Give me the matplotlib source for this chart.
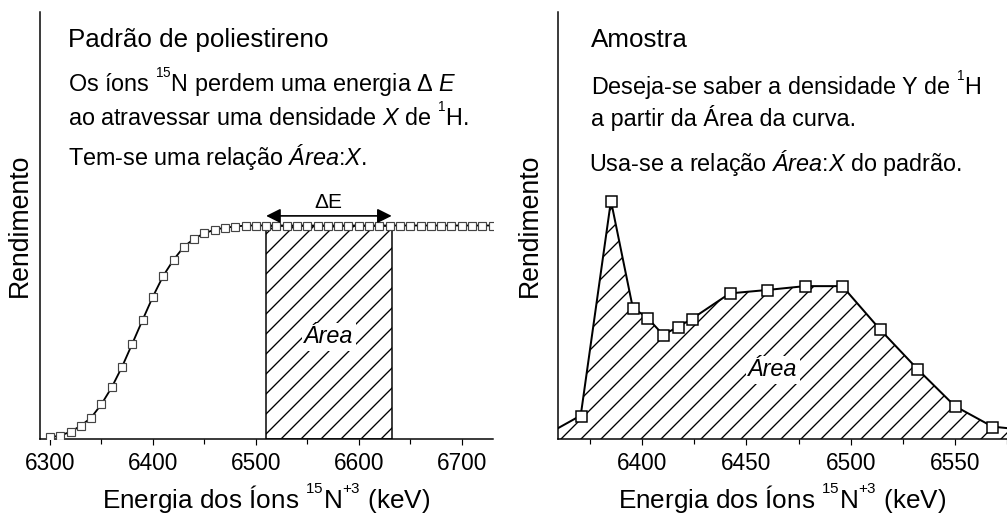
import matplotlib
matplotlib.use("Agg")
import matplotlib.pyplot as plt
import matplotlib._mathtext as mathtext_internals
from matplotlib.patches import Rectangle
from matplotlib.ticker import MultipleLocator

# Standard (polystyrene) excitation curve, yield normalised to the plateau
std_energy = [6300, 6310, 6320, 6330, 6340, 6350, 6360, 6370, 6380, 6390,
              6400, 6410, 6420, 6430, 6440, 6450, 6460, 6470, 6480, 6490,
              6500, 6510, 6520, 6530, 6540, 6550, 6560, 6570, 6580, 6590,
              6600, 6610, 6620, 6630, 6640, 6650, 6660, 6670, 6680, 6690,
              6700, 6710, 6720, 6730]
std_yield = [0.008, 0.016, 0.034, 0.062, 0.10, 0.163, 0.242, 0.338, 0.447, 0.558,
             0.667, 0.764, 0.839, 0.90, 0.938, 0.964, 0.98, 0.99, 0.995, 1.0,
             1.0, 1.0, 1.0, 1.0, 1.0, 1.0, 1.0, 1.0, 1.0, 1.0,
             1.0, 1.0, 1.0, 1.0, 1.0, 1.0, 1.0, 1.0, 1.0, 1.0,
             1.0, 1.0, 1.0, 1.0]
delta_e = (6510, 6632)  # energy window crossed in the standard

# Sample excitation curve
smp_energy = [6352.5, 6370.5, 6385, 6395.5, 6402.5, 6410, 6417, 6424, 6442,
              6460, 6478, 6496, 6514, 6532, 6550, 6568, 6586]
smp_yield = [0.006, 0.055, 0.558, 0.307, 0.284, 0.244, 0.262, 0.282, 0.341,
             0.349, 0.358, 0.358, 0.257, 0.164, 0.077, 0.029, 0.02]

DPI = 120
W, H = 1007, 515

plt.rcParams["font.family"] = ["Liberation Sans", "DejaVu Sans"]
plt.rcParams["mathtext.fontset"] = "custom"
plt.rcParams["mathtext.rm"] = "Liberation Sans"
plt.rcParams["mathtext.it"] = "Liberation Sans:italic"
plt.rcParams["hatch.linewidth"] = 0.8
# smaller, higher superscripts (isotope numbers, charge state)
mathtext_internals.SHRINK_FACTOR = 0.58
mathtext_internals.FontConstantsBase.sup1 = 1.05

fig = plt.figure(figsize=(W / DPI, H / DPI), dpi=DPI)
fig.patch.set_facecolor("white")


def px_box(x0, x1, y_top, y_bot):
    return [x0 / W, 1 - y_bot / H, (x1 - x0) / W, (y_bot - y_top) / H]


def px(x, y):
    return x / W, 1 - y / H


xlabel = r"Energia dos Íons $^{15}$N$^{+3}$ (keV)"


def style_axes(ax):
    for side in ("top", "right"):
        ax.spines[side].set_visible(False)
    for side in ("left", "bottom"):
        ax.spines[side].set_linewidth(0.9)
    ax.set_yticks([])
    ax.tick_params(axis="x", which="major", direction="out", length=3.6,
                   width=0.7, labelsize=13.5, pad=4)
    ax.tick_params(axis="x", which="minor", direction="out", length=3.2,
                   width=0.7)
    ax.set_xlabel(xlabel, fontsize=15.7, va="center")
    ax.set_ylabel("Rendimento", fontsize=16, va="center")


# ---- left: standard ----
ax1 = fig.add_axes(px_box(40, 493, 12, 439))
ax1.set_xlim(6290.3, 6730.4)
ax1.set_ylim(0, 2.0)
style_axes(ax1)
ax1.xaxis.set_major_locator(MultipleLocator(100))
ax1.xaxis.set_minor_locator(MultipleLocator(50))
ax1.xaxis.set_label_coords(0.5, -0.14)
ax1.yaxis.set_label_coords(-0.044, 0.5)

ax1.plot(std_energy, std_yield, color="black", lw=1.1, marker="s", ms=4.3,
         mfc="white", mec="#444444", mew=0.7, zorder=3)
ax1.add_patch(Rectangle((delta_e[0], 0), delta_e[1] - delta_e[0], 1.0,
                        facecolor="none", edgecolor="black", lw=0.9,
                        hatch="//", zorder=2))
ax1.annotate("", xy=(delta_e[0], 1.045), xytext=(delta_e[1], 1.045),
             arrowprops=dict(arrowstyle="<|-|>", color="black", lw=1.0,
                             mutation_scale=18, shrinkA=0, shrinkB=0))
ax1.text(sum(delta_e) / 2, 1.08, r"$\Delta$E", ha="center", va="baseline",
         fontsize=12.5)
ax1.text(sum(delta_e) / 2, 0.478, "Área", style="italic", ha="center",
         va="center", fontsize=14, zorder=4,
         bbox=dict(boxstyle="square,pad=0.1", fc="white", ec="none"))

fig.text(*px(68, 47), "Padrão de poliestireno", fontsize=15.6, va="baseline")
fig.text(*px(68, 92), r"Os íons $^{15}$N perdem uma energia $\mathit{\Delta\ E}$",
         fontsize=14, va="baseline")
fig.text(*px(68, 126), r"ao atravessar uma densidade $\mathit{X}$ de $^{1}$H.",
         fontsize=14, va="baseline")
fig.text(*px(68, 165), r"Tem-se uma relação $\mathit{Área}$:$\mathit{X}$.",
         fontsize=14, va="baseline")

# ---- right: sample ----
ax2 = fig.add_axes(px_box(558, 1007, 12, 439))
ax2.set_xlim(6359.6, 6575.0)
ax2.set_ylim(0, 1.0)
style_axes(ax2)
ax2.xaxis.set_major_locator(MultipleLocator(50))
ax2.xaxis.set_minor_locator(MultipleLocator(25))
ax2.xaxis.set_label_coords(0.5, -0.14)
ax2.yaxis.set_label_coords(-0.062, 0.5)

ax2.fill_between(smp_energy, smp_yield, 0, facecolor="white",
                 edgecolor="black", lw=0, hatch="//", zorder=1)
ax2.plot(smp_energy, smp_yield, color="black", lw=1.2, marker="s", ms=6.6,
         mfc="white", mec="black", mew=0.9, zorder=3)
ax2.text(6462.7, 0.162, "Área", style="italic", ha="center", va="center",
         fontsize=14, zorder=4,
         bbox=dict(boxstyle="square,pad=0.1", fc="white", ec="none"))

fig.text(*px(591, 47), "Amostra", fontsize=15.6, va="baseline")
fig.text(*px(591, 95), r"Deseja-se saber a densidade Y de $^{1}$H",
         fontsize=14, va="baseline")
fig.text(*px(591, 126), "a partir da Área da curva.", fontsize=14,
         va="baseline")
fig.text(*px(589, 171), r"Usa-se a relação $\mathit{Área}$:$\mathit{X}$ do padrão.",
         fontsize=14, va="baseline")

fig.savefig("out.png", dpi=DPI)
